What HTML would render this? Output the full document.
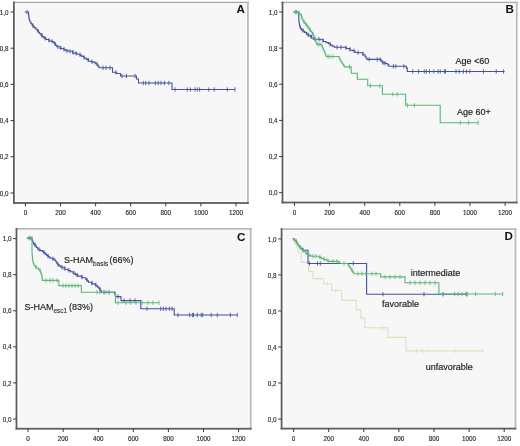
<!DOCTYPE html>
<html><head><meta charset="utf-8"><title>Kaplan-Meier survival curves</title>
<style>
html,body{margin:0;padding:0;background:#fff;width:520px;height:446px;overflow:hidden}
svg{display:block;will-change:transform;filter:blur(0.3px)}
text{font-family:"Liberation Sans",sans-serif;fill:#151515}
.tk{font-size:6.3px;fill:#1e1e1e;stroke:#1e1e1e;stroke-width:0.12px}
.pl{font-size:11.6px;font-weight:bold;fill:#111}
.lg{font-size:9px;fill:#151515;stroke:#151515;stroke-width:0.14px}
.sb{font-size:6.5px;stroke-width:0.06px}
</style></head>
<body>
<svg width="520" height="446" viewBox="0 0 520 446">
<rect width="520" height="446" fill="#fff"/>
<rect x="16.10" y="3.90" width="229.80" height="197.30" fill="#f7f7f7"/>
<rect x="13.00" y="1.75" width="235.80" height="1.4" fill="#a9a9a9"/>
<rect x="247.00" y="1.55" width="1.8" height="202.30" fill="#bababa"/>
<rect x="13.00" y="1.55" width="1.8" height="202.30" fill="#5e5e5e"/>
<rect x="13.00" y="202.10" width="235.80" height="1.8" fill="#5e5e5e"/>
<line x1="10.50" y1="12.00" x2="13.90" y2="12.00" stroke="#3a3a3a" stroke-width="1"/>
<text x="8.60" y="14.65" class="tk" text-anchor="end">1,0</text>
<line x1="10.50" y1="48.20" x2="13.90" y2="48.20" stroke="#3a3a3a" stroke-width="1"/>
<text x="8.60" y="50.85" class="tk" text-anchor="end">0,8</text>
<line x1="10.50" y1="84.40" x2="13.90" y2="84.40" stroke="#3a3a3a" stroke-width="1"/>
<text x="8.60" y="87.05" class="tk" text-anchor="end">0,6</text>
<line x1="10.50" y1="120.60" x2="13.90" y2="120.60" stroke="#3a3a3a" stroke-width="1"/>
<text x="8.60" y="123.25" class="tk" text-anchor="end">0,4</text>
<line x1="10.50" y1="156.80" x2="13.90" y2="156.80" stroke="#3a3a3a" stroke-width="1"/>
<text x="8.60" y="159.45" class="tk" text-anchor="end">0,2</text>
<line x1="10.50" y1="193.00" x2="13.90" y2="193.00" stroke="#3a3a3a" stroke-width="1"/>
<text x="8.60" y="195.65" class="tk" text-anchor="end">0,0</text>
<line x1="25.40" y1="203.00" x2="25.40" y2="206.40" stroke="#3a3a3a" stroke-width="1"/>
<text x="25.40" y="215.00" class="tk" text-anchor="middle">0</text>
<line x1="60.50" y1="203.00" x2="60.50" y2="206.40" stroke="#3a3a3a" stroke-width="1"/>
<text x="60.50" y="215.00" class="tk" text-anchor="middle">200</text>
<line x1="95.60" y1="203.00" x2="95.60" y2="206.40" stroke="#3a3a3a" stroke-width="1"/>
<text x="95.60" y="215.00" class="tk" text-anchor="middle">400</text>
<line x1="130.70" y1="203.00" x2="130.70" y2="206.40" stroke="#3a3a3a" stroke-width="1"/>
<text x="130.70" y="215.00" class="tk" text-anchor="middle">600</text>
<line x1="165.80" y1="203.00" x2="165.80" y2="206.40" stroke="#3a3a3a" stroke-width="1"/>
<text x="165.80" y="215.00" class="tk" text-anchor="middle">800</text>
<line x1="200.90" y1="203.00" x2="200.90" y2="206.40" stroke="#3a3a3a" stroke-width="1"/>
<text x="200.90" y="215.00" class="tk" text-anchor="middle">1000</text>
<line x1="236.00" y1="203.00" x2="236.00" y2="206.40" stroke="#3a3a3a" stroke-width="1"/>
<text x="236.00" y="215.00" class="tk" text-anchor="middle">1200</text>
<text x="236.6" y="13.3" class="pl">A</text>
<path d="M24.70,12.00 L28.50,12.00 L28.50,14.50 L28.61,14.50 L28.61,15.88 L28.84,15.88 L28.84,17.25 L29.06,17.25 L29.06,18.62 L29.29,18.62 L29.29,20.00 L29.40,20.00 L29.90,20.00 L29.90,21.75 L30.90,21.75 L30.90,23.50 L31.40,23.50 L31.90,23.50 L31.90,24.85 L32.90,24.85 L32.90,26.20 L33.40,26.20 L34.25,26.20 L34.25,27.85 L35.95,27.85 L35.95,29.50 L36.80,29.50 L37.37,29.50 L37.37,30.87 L38.50,30.87 L38.50,32.23 L39.63,32.23 L39.63,33.60 L40.20,33.60 L40.93,33.60 L40.93,35.10 L42.40,35.10 L42.40,36.60 L43.87,36.60 L43.87,38.10 L44.60,38.10 L46.05,38.10 L46.05,39.55 L48.95,39.55 L48.95,41.00 L50.40,41.00 L51.85,41.00 L51.85,41.50 L53.30,41.50 L53.72,41.50 L53.72,42.65 L54.58,42.65 L54.58,43.80 L55.00,43.80 L55.58,43.80 L55.58,45.25 L56.72,45.25 L56.72,46.70 L57.30,46.70 L60.15,46.70 L60.15,48.50 L63.00,48.50 L63.88,48.50 L63.88,49.65 L65.62,49.65 L65.62,50.80 L66.50,50.80 L68.80,50.80 L68.80,51.30 L71.10,51.30 L72.85,51.30 L72.85,53.10 L74.60,53.10 L76.90,53.10 L76.90,54.20 L79.20,54.20 L80.08,54.20 L80.08,55.35 L81.83,55.35 L81.83,56.50 L82.70,56.50 L83.85,56.50 L83.85,57.95 L86.15,57.95 L86.15,59.40 L87.30,59.40 L88.65,59.40 L88.65,61.20 L90.00,61.20 L91.75,61.20 L91.75,62.10 L93.50,62.10 L95.20,62.10 L95.20,63.80 L96.90,63.80 L97.33,63.80 L97.33,65.13 L98.20,65.13 L98.20,66.47 L99.07,66.47 L99.07,67.80 L99.50,67.80 L112.50,67.80 L112.50,72.30 L116.50,72.30 L116.50,73.50 L120.50,73.50 L120.50,76.00 L136.50,76.00 L136.50,79.00 L138.50,79.00 L138.50,83.00 L172.00,83.00 L172.00,89.50 L235.00,89.50" fill="none" stroke="#46509c" stroke-width="1.1" stroke-linejoin="miter" opacity="1.0"/>
<path d="M27.0,9.8V14.2M33.0,23.5V27.9M38.0,28.7V33.1M42.0,33.2V37.6M45.0,36.1V40.5M49.0,38.1V42.5M52.0,39.1V43.5M55.0,41.6V46.0M58.0,44.7V49.1M61.0,45.7V50.1M64.0,47.0V51.4M67.0,48.7V53.1M70.0,49.0V53.4M73.0,50.1V54.5M76.0,51.2V55.6M80.0,52.5V56.9M84.0,55.1V59.5M88.0,57.7V62.1M92.0,59.5V63.9M97.0,61.8V66.2M103.0,65.6V70.0M106.0,65.6V70.0M110.0,65.6V70.0M116.0,70.1V74.5M122.0,73.8V78.2M126.4,73.8V78.2M135.0,73.8V78.2M143.3,80.8V85.2M145.7,80.8V85.2M149.0,80.8V85.2M155.3,80.8V85.2M158.2,80.8V85.2M161.0,80.8V85.2M164.4,80.8V85.2M168.8,80.8V85.2M175.0,87.3V91.7M187.3,87.3V91.7M190.4,87.3V91.7M195.0,87.3V91.7M197.3,87.3V91.7M199.6,87.3V91.7M208.8,87.3V91.7M214.2,87.3V91.7M227.3,87.3V91.7M235.0,87.3V91.7" stroke="#46509c" stroke-width="0.85" fill="none" opacity="1.0"/>
<rect x="284.70" y="3.90" width="230.00" height="196.80" fill="#f7f7f7"/>
<rect x="281.60" y="1.75" width="236.00" height="1.4" fill="#a9a9a9"/>
<rect x="515.80" y="1.55" width="1.8" height="201.80" fill="#bababa"/>
<rect x="281.60" y="1.55" width="1.8" height="201.80" fill="#5e5e5e"/>
<rect x="281.60" y="201.60" width="236.00" height="1.8" fill="#5e5e5e"/>
<line x1="279.10" y1="12.00" x2="282.50" y2="12.00" stroke="#3a3a3a" stroke-width="1"/>
<text x="277.40" y="14.65" class="tk" text-anchor="end">1,0</text>
<line x1="279.10" y1="48.14" x2="282.50" y2="48.14" stroke="#3a3a3a" stroke-width="1"/>
<text x="277.40" y="50.79" class="tk" text-anchor="end">0,8</text>
<line x1="279.10" y1="84.28" x2="282.50" y2="84.28" stroke="#3a3a3a" stroke-width="1"/>
<text x="277.40" y="86.93" class="tk" text-anchor="end">0,6</text>
<line x1="279.10" y1="120.42" x2="282.50" y2="120.42" stroke="#3a3a3a" stroke-width="1"/>
<text x="277.40" y="123.07" class="tk" text-anchor="end">0,4</text>
<line x1="279.10" y1="156.56" x2="282.50" y2="156.56" stroke="#3a3a3a" stroke-width="1"/>
<text x="277.40" y="159.21" class="tk" text-anchor="end">0,2</text>
<line x1="279.10" y1="192.70" x2="282.50" y2="192.70" stroke="#3a3a3a" stroke-width="1"/>
<text x="277.40" y="195.35" class="tk" text-anchor="end">0,0</text>
<line x1="294.50" y1="202.50" x2="294.50" y2="205.90" stroke="#3a3a3a" stroke-width="1"/>
<text x="294.50" y="214.80" class="tk" text-anchor="middle">0</text>
<line x1="329.60" y1="202.50" x2="329.60" y2="205.90" stroke="#3a3a3a" stroke-width="1"/>
<text x="329.60" y="214.80" class="tk" text-anchor="middle">200</text>
<line x1="364.70" y1="202.50" x2="364.70" y2="205.90" stroke="#3a3a3a" stroke-width="1"/>
<text x="364.70" y="214.80" class="tk" text-anchor="middle">400</text>
<line x1="399.80" y1="202.50" x2="399.80" y2="205.90" stroke="#3a3a3a" stroke-width="1"/>
<text x="399.80" y="214.80" class="tk" text-anchor="middle">600</text>
<line x1="434.90" y1="202.50" x2="434.90" y2="205.90" stroke="#3a3a3a" stroke-width="1"/>
<text x="434.90" y="214.80" class="tk" text-anchor="middle">800</text>
<line x1="470.00" y1="202.50" x2="470.00" y2="205.90" stroke="#3a3a3a" stroke-width="1"/>
<text x="470.00" y="214.80" class="tk" text-anchor="middle">1000</text>
<line x1="505.10" y1="202.50" x2="505.10" y2="205.90" stroke="#3a3a3a" stroke-width="1"/>
<text x="505.10" y="214.80" class="tk" text-anchor="middle">1200</text>
<text x="505.4" y="13.1" class="pl">B</text>
<path d="M293.30,12.00 L298.40,12.00 L298.45,12.00 L298.45,13.20 L298.55,13.20 L298.55,14.40 L298.65,14.40 L298.65,15.60 L298.70,15.60 L298.74,15.60 L298.74,17.12 L298.81,17.12 L298.81,18.65 L298.89,18.65 L298.89,20.17 L298.96,20.17 L298.96,21.70 L299.00,21.70 L299.12,21.70 L299.12,23.00 L299.35,23.00 L299.35,24.30 L299.58,24.30 L299.58,25.60 L299.70,25.60 L299.95,25.60 L299.95,27.10 L300.45,27.10 L300.45,28.60 L300.70,28.60 L301.60,28.60 L301.60,30.10 L302.50,30.10 L303.20,30.10 L303.20,31.25 L304.60,31.25 L304.60,32.40 L305.30,32.40 L306.45,32.40 L306.45,34.30 L307.60,34.30 L308.70,34.30 L308.70,35.90 L309.80,35.90 L311.35,35.90 L311.35,37.80 L312.90,37.80 L313.20,37.80 L313.20,39.20 L313.50,39.20 L319.20,39.20 L320.35,39.20 L320.35,39.80 L321.50,39.80 L323.25,39.80 L323.25,41.50 L325.00,41.50 L326.15,41.50 L326.15,42.65 L328.45,42.65 L328.45,43.80 L329.60,43.80 L330.48,43.80 L330.48,44.95 L332.23,44.95 L332.23,46.10 L333.10,46.10 L334.25,46.10 L334.25,47.30 L335.40,47.30 L344.60,47.30 L346.35,47.30 L346.35,48.50 L348.10,48.50 L349.80,48.50 L349.80,50.20 L351.50,50.20 L352.65,50.20 L352.65,50.80 L353.80,50.80 L354.95,50.80 L354.95,52.50 L356.10,52.50 L358.65,52.50 L358.65,52.80 L361.20,52.80 L362.90,52.80 L362.90,54.80 L364.60,54.80 L365.03,54.80 L365.03,56.25 L365.88,56.25 L365.88,57.70 L366.30,57.70 L366.90,57.70 L366.90,59.40 L367.50,59.40 L380.20,59.40 L381.05,59.40 L381.05,61.10 L381.90,61.10 L382.50,61.10 L382.50,62.90 L383.10,62.90 L385.10,62.90 L385.10,63.50 L387.10,63.50 L387.68,63.50 L387.68,64.90 L388.82,64.90 L388.82,66.30 L389.40,66.30 L405.60,66.30 L406.45,66.30 L406.45,68.10 L407.30,68.10 L407.30,71.50 L504.60,71.50" fill="none" stroke="#46509c" stroke-width="1.1" stroke-linejoin="miter" opacity="1.0"/>
<path d="M296.0,9.8V14.2M303.0,28.3V32.7M308.0,32.4V36.8M311.0,34.4V38.8M315.0,37.0V41.4M319.0,37.0V41.4M323.0,38.3V42.7M330.0,41.9V46.3M337.0,45.1V49.5M341.0,45.1V49.5M346.0,45.6V50.0M350.0,47.2V51.6M354.0,48.7V53.1M358.0,50.4V54.8M363.0,51.7V56.1M369.2,57.2V61.6M377.3,57.2V61.6M380.2,57.2V61.6M383.0,60.5V64.9M385.0,61.0V65.4M393.4,64.1V68.5M395.8,64.1V68.5M403.8,64.1V68.5M412.7,69.3V73.7M418.6,69.3V73.7M424.3,69.3V73.7M426.4,69.3V73.7M429.6,69.3V73.7M433.8,69.3V73.7M438.0,69.3V73.7M440.2,69.3V73.7M444.4,69.3V73.7M445.5,69.3V73.7M456.0,69.3V73.7M459.2,69.3V73.7M463.4,69.3V73.7M466.6,69.3V73.7M469.8,69.3V73.7M483.5,69.3V73.7M496.2,69.3V73.7M503.6,69.3V73.7" stroke="#46509c" stroke-width="0.85" fill="none" opacity="1.0"/>
<path d="M293.30,12.00 L295.65,12.00 L295.65,12.30 L298.00,12.30 L299.35,12.30 L299.35,14.10 L300.70,14.10 L300.90,14.10 L300.90,15.25 L301.30,15.25 L301.30,16.40 L301.50,16.40 L301.77,16.40 L301.77,17.95 L302.33,17.95 L302.33,19.50 L302.60,19.50 L303.08,19.50 L303.08,21.00 L304.02,21.00 L304.02,22.50 L304.50,22.50 L304.98,22.50 L304.98,23.65 L305.92,23.65 L305.92,24.80 L306.40,24.80 L306.88,24.80 L306.88,26.15 L307.82,26.15 L307.82,27.50 L308.30,27.50 L308.77,27.50 L308.77,28.80 L309.73,28.80 L309.73,30.10 L310.20,30.10 L310.68,30.10 L310.68,31.25 L311.62,31.25 L311.62,32.40 L312.10,32.40 L312.48,32.40 L312.48,33.93 L313.25,33.93 L313.25,35.47 L314.02,35.47 L314.02,37.00 L314.40,37.00 L314.70,37.00 L314.70,38.55 L315.30,38.55 L315.30,40.10 L315.60,40.10 L315.82,40.10 L315.82,41.53 L316.25,41.53 L316.25,42.97 L316.68,42.97 L316.68,44.40 L316.90,44.40 L321.50,44.40 L321.80,44.40 L321.80,46.15 L322.40,46.15 L322.40,47.90 L322.70,47.90 L323.12,47.90 L323.12,49.60 L323.97,49.60 L323.97,51.30 L324.40,51.30 L324.70,51.30 L324.70,52.75 L325.30,52.75 L325.30,54.20 L325.60,54.20 L325.73,54.20 L325.73,55.35 L325.98,55.35 L325.98,56.50 L326.10,56.50 L338.80,56.50 L339.10,56.50 L339.10,57.87 L339.70,57.87 L339.70,59.23 L340.30,59.23 L340.30,60.60 L340.60,60.60 L341.07,60.60 L341.07,61.93 L342.00,61.93 L342.00,63.27 L342.93,63.27 L342.93,64.60 L343.40,64.60 L343.70,64.60 L343.70,65.75 L344.30,65.75 L344.30,66.90 L344.60,66.90 L351.20,66.90 L351.20,73.20 L357.30,73.20 L357.30,79.20 L367.70,79.20 L367.70,85.80 L382.40,85.80 L382.40,94.20 L405.60,94.20 L405.60,105.30 L440.20,105.30 L440.20,122.70 L478.20,122.70" fill="none" stroke="#5ab676" stroke-width="1.1" stroke-linejoin="miter" opacity="1.0"/>
<path d="M296.0,10.0V14.4M299.0,10.8V15.2M301.5,14.2V18.6M304.0,19.5V23.9M306.0,22.1V26.5M308.0,24.9V29.3M310.0,27.6V32.0M313.0,32.0V36.4M318.0,42.2V46.6M320.0,42.2V46.6M328.0,54.3V58.7M330.0,54.3V58.7M333.0,54.3V58.7M349.5,64.7V69.1M370.3,83.6V88.0M379.8,83.6V88.0M392.8,92.0V96.4M397.1,92.0V96.4M407.4,103.1V107.5M414.4,103.1V107.5M460.3,120.5V124.9M468.7,120.5V124.9M478.2,120.5V124.9" stroke="#5ab676" stroke-width="0.85" fill="none" opacity="1.0"/>
<text x="455.4" y="63.9" class="lg">Age &lt;60</text>
<text x="457.0" y="115.3" class="lg">Age 60+</text>
<rect x="18.70" y="230.30" width="230.00" height="196.60" fill="#f7f7f7"/>
<rect x="15.60" y="228.15" width="236.00" height="1.4" fill="#a9a9a9"/>
<rect x="249.80" y="227.95" width="1.8" height="201.60" fill="#bababa"/>
<rect x="15.60" y="227.95" width="1.8" height="201.60" fill="#5e5e5e"/>
<rect x="15.60" y="427.80" width="236.00" height="1.8" fill="#5e5e5e"/>
<line x1="13.10" y1="238.60" x2="16.50" y2="238.60" stroke="#3a3a3a" stroke-width="1"/>
<text x="11.40" y="241.25" class="tk" text-anchor="end">1,0</text>
<line x1="13.10" y1="274.68" x2="16.50" y2="274.68" stroke="#3a3a3a" stroke-width="1"/>
<text x="11.40" y="277.33" class="tk" text-anchor="end">0,8</text>
<line x1="13.10" y1="310.76" x2="16.50" y2="310.76" stroke="#3a3a3a" stroke-width="1"/>
<text x="11.40" y="313.41" class="tk" text-anchor="end">0,6</text>
<line x1="13.10" y1="346.84" x2="16.50" y2="346.84" stroke="#3a3a3a" stroke-width="1"/>
<text x="11.40" y="349.49" class="tk" text-anchor="end">0,4</text>
<line x1="13.10" y1="382.92" x2="16.50" y2="382.92" stroke="#3a3a3a" stroke-width="1"/>
<text x="11.40" y="385.57" class="tk" text-anchor="end">0,2</text>
<line x1="13.10" y1="419.00" x2="16.50" y2="419.00" stroke="#3a3a3a" stroke-width="1"/>
<text x="11.40" y="421.65" class="tk" text-anchor="end">0,0</text>
<line x1="28.00" y1="428.70" x2="28.00" y2="432.10" stroke="#3a3a3a" stroke-width="1"/>
<text x="28.00" y="441.20" class="tk" text-anchor="middle">0</text>
<line x1="63.10" y1="428.70" x2="63.10" y2="432.10" stroke="#3a3a3a" stroke-width="1"/>
<text x="63.10" y="441.20" class="tk" text-anchor="middle">200</text>
<line x1="98.20" y1="428.70" x2="98.20" y2="432.10" stroke="#3a3a3a" stroke-width="1"/>
<text x="98.20" y="441.20" class="tk" text-anchor="middle">400</text>
<line x1="133.30" y1="428.70" x2="133.30" y2="432.10" stroke="#3a3a3a" stroke-width="1"/>
<text x="133.30" y="441.20" class="tk" text-anchor="middle">600</text>
<line x1="168.40" y1="428.70" x2="168.40" y2="432.10" stroke="#3a3a3a" stroke-width="1"/>
<text x="168.40" y="441.20" class="tk" text-anchor="middle">800</text>
<line x1="203.50" y1="428.70" x2="203.50" y2="432.10" stroke="#3a3a3a" stroke-width="1"/>
<text x="203.50" y="441.20" class="tk" text-anchor="middle">1000</text>
<line x1="238.60" y1="428.70" x2="238.60" y2="432.10" stroke="#3a3a3a" stroke-width="1"/>
<text x="238.60" y="441.20" class="tk" text-anchor="middle">1200</text>
<text x="237.0" y="240.8" class="pl">C</text>
<path d="M26.90,238.10 L31.20,238.10 L31.52,238.10 L31.52,239.20 L32.17,239.20 L32.17,240.30 L32.50,240.30 L32.62,240.30 L32.62,241.40 L32.88,241.40 L32.88,242.50 L33.00,242.50 L33.67,242.50 L33.67,244.10 L35.03,244.10 L35.03,245.70 L35.70,245.70 L36.35,245.70 L36.35,247.45 L37.65,247.45 L37.65,249.20 L38.30,249.20 L40.10,249.20 L40.10,250.60 L41.90,250.60 L42.58,250.60 L42.58,251.70 L43.92,251.70 L43.92,252.80 L44.60,252.80 L45.27,252.80 L45.27,254.15 L46.62,254.15 L46.62,255.50 L47.30,255.50 L48.20,255.50 L48.20,256.85 L50.00,256.85 L50.00,258.20 L50.90,258.20 L52.70,258.20 L52.70,259.10 L54.50,259.10 L54.95,259.10 L54.95,260.45 L55.85,260.45 L55.85,261.80 L56.75,261.80 L56.75,263.15 L57.65,263.15 L57.65,264.50 L58.10,264.50 L59.00,264.50 L59.00,265.85 L60.80,265.85 L60.80,267.20 L61.70,267.20 L64.20,267.20 L64.20,269.20 L66.70,269.20 L68.00,269.20 L68.00,270.50 L70.60,270.50 L70.60,271.80 L71.90,271.80 L73.05,271.80 L73.05,273.23 L75.35,273.23 L75.35,274.67 L77.65,274.67 L77.65,276.10 L78.80,276.10 L81.85,276.10 L81.85,277.80 L84.90,277.80 L85.62,277.80 L85.62,279.27 L87.05,279.27 L87.05,280.73 L88.48,280.73 L88.48,282.20 L89.20,282.20 L91.80,282.20 L91.80,283.90 L94.40,283.90 L95.43,283.90 L95.43,285.50 L97.47,285.50 L97.47,287.10 L98.50,287.10 L98.92,287.10 L98.92,288.40 L99.78,288.40 L99.78,289.70 L100.62,289.70 L100.62,291.00 L101.48,291.00 L101.48,292.30 L101.90,292.30 L114.50,292.30 L114.72,292.30 L114.72,293.73 L115.15,293.73 L115.15,295.17 L115.58,295.17 L115.58,296.60 L115.80,296.60 L121.00,296.60 L121.00,300.60 L140.80,300.60 L140.80,308.70 L174.20,308.70 L174.20,315.00 L237.30,315.00" fill="none" stroke="#46509c" stroke-width="1.1" stroke-linejoin="miter" opacity="1.0"/>
<path d="M30.0,235.9V240.3M35.0,242.7V247.1M39.0,247.3V251.7M44.0,250.1V254.5M48.0,253.8V258.2M53.0,256.5V260.9M58.0,262.2V266.6M62.0,265.1V269.5M65.0,266.3V270.7M69.0,268.2V272.6M74.0,270.9V275.3M77.0,272.8V277.2M82.0,274.8V279.2M87.0,277.7V282.1M92.0,280.9V285.3M96.0,282.9V287.3M100.0,287.2V291.6M104.0,290.1V294.5M109.0,290.1V294.5M118.0,294.4V298.8M124.0,298.4V302.8M130.0,298.4V302.8M135.0,298.4V302.8M147.0,306.5V310.9M160.7,306.5V310.9M163.3,306.5V310.9M166.0,306.5V310.9M169.4,306.5V310.9M172.0,306.5V310.9M178.0,312.8V317.2M189.6,312.8V317.2M192.4,312.8V317.2M193.5,312.8V317.2M197.3,312.8V317.2M201.2,312.8V317.2M202.7,312.8V317.2M211.2,312.8V317.2M217.3,312.8V317.2M230.4,312.8V317.2M237.3,312.8V317.2" stroke="#46509c" stroke-width="0.85" fill="none" opacity="1.0"/>
<path d="M26.90,238.10 L32.00,238.10 L32.00,252.80 L32.07,252.80 L32.07,254.16 L32.21,254.16 L32.21,255.51 L32.36,255.51 L32.36,256.87 L32.50,256.87 L32.50,258.23 L32.64,258.23 L32.64,259.59 L32.79,259.59 L32.79,260.94 L32.93,260.94 L32.93,262.30 L33.00,262.30 L33.42,262.30 L33.42,264.00 L34.28,264.00 L34.28,265.70 L34.70,265.70 L35.35,265.70 L35.35,267.00 L36.65,267.00 L36.65,268.30 L37.30,268.30 L38.60,268.30 L38.60,270.00 L39.90,270.00 L40.18,270.00 L40.18,271.47 L40.75,271.47 L40.75,272.93 L41.32,272.93 L41.32,274.40 L41.60,274.40 L41.71,274.40 L41.71,275.90 L41.94,275.90 L41.94,277.40 L42.16,277.40 L42.16,278.90 L42.39,278.90 L42.39,280.40 L42.50,280.40 L58.90,280.40 L58.90,285.60 L81.40,285.60 L81.40,292.20 L115.40,292.20 L115.40,302.70 L159.00,302.70" fill="none" stroke="#5ab676" stroke-width="1.1" stroke-linejoin="miter" opacity="1.0"/>
<path d="M29.0,235.9V240.3M32.0,235.9V240.3M36.0,264.8V269.2M40.0,268.1V272.5M46.0,278.2V282.6M50.0,278.2V282.6M53.0,278.2V282.6M57.0,278.2V282.6M63.0,283.4V287.8M66.0,283.4V287.8M69.0,283.4V287.8M72.0,283.4V287.8M75.0,283.4V287.8M78.0,283.4V287.8M97.0,290.0V294.4M100.0,290.0V294.4M106.0,290.0V294.4M118.0,300.5V304.9M126.0,300.5V304.9M131.0,300.5V304.9M136.0,300.5V304.9M142.0,300.5V304.9M148.0,300.5V304.9M153.0,300.5V304.9M159.0,300.5V304.9" stroke="#5ab676" stroke-width="0.85" fill="none" opacity="1.0"/>
<text x="64.0" y="263.0" class="lg">S-HAM<tspan class="sb" dy="2.6">basis</tspan><tspan x="109.6" dy="-2.6">(66%)</tspan></text>
<text x="24.5" y="310.0" class="lg">S-HAM<tspan class="sb" dy="2.6">esc1</tspan><tspan x="69.0" dy="-2.6">(83%)</tspan></text>
<rect x="283.80" y="230.60" width="229.60" height="196.20" fill="#f7f7f7"/>
<rect x="280.70" y="228.45" width="235.60" height="1.4" fill="#a9a9a9"/>
<rect x="514.50" y="228.25" width="1.8" height="201.20" fill="#bababa"/>
<rect x="280.70" y="228.25" width="1.8" height="201.20" fill="#5e5e5e"/>
<rect x="280.70" y="427.70" width="235.60" height="1.8" fill="#5e5e5e"/>
<line x1="278.20" y1="238.90" x2="281.60" y2="238.90" stroke="#3a3a3a" stroke-width="1"/>
<text x="276.40" y="241.55" class="tk" text-anchor="end">1,0</text>
<line x1="278.20" y1="274.92" x2="281.60" y2="274.92" stroke="#3a3a3a" stroke-width="1"/>
<text x="276.40" y="277.57" class="tk" text-anchor="end">0,8</text>
<line x1="278.20" y1="310.94" x2="281.60" y2="310.94" stroke="#3a3a3a" stroke-width="1"/>
<text x="276.40" y="313.59" class="tk" text-anchor="end">0,6</text>
<line x1="278.20" y1="346.96" x2="281.60" y2="346.96" stroke="#3a3a3a" stroke-width="1"/>
<text x="276.40" y="349.61" class="tk" text-anchor="end">0,4</text>
<line x1="278.20" y1="382.98" x2="281.60" y2="382.98" stroke="#3a3a3a" stroke-width="1"/>
<text x="276.40" y="385.63" class="tk" text-anchor="end">0,2</text>
<line x1="278.20" y1="419.00" x2="281.60" y2="419.00" stroke="#3a3a3a" stroke-width="1"/>
<text x="276.40" y="421.65" class="tk" text-anchor="end">0,0</text>
<line x1="293.60" y1="428.60" x2="293.60" y2="432.00" stroke="#3a3a3a" stroke-width="1"/>
<text x="293.60" y="441.20" class="tk" text-anchor="middle">0</text>
<line x1="328.70" y1="428.60" x2="328.70" y2="432.00" stroke="#3a3a3a" stroke-width="1"/>
<text x="328.70" y="441.20" class="tk" text-anchor="middle">200</text>
<line x1="363.80" y1="428.60" x2="363.80" y2="432.00" stroke="#3a3a3a" stroke-width="1"/>
<text x="363.80" y="441.20" class="tk" text-anchor="middle">400</text>
<line x1="398.90" y1="428.60" x2="398.90" y2="432.00" stroke="#3a3a3a" stroke-width="1"/>
<text x="398.90" y="441.20" class="tk" text-anchor="middle">600</text>
<line x1="434.00" y1="428.60" x2="434.00" y2="432.00" stroke="#3a3a3a" stroke-width="1"/>
<text x="434.00" y="441.20" class="tk" text-anchor="middle">800</text>
<line x1="469.10" y1="428.60" x2="469.10" y2="432.00" stroke="#3a3a3a" stroke-width="1"/>
<text x="469.10" y="441.20" class="tk" text-anchor="middle">1000</text>
<line x1="504.20" y1="428.60" x2="504.20" y2="432.00" stroke="#3a3a3a" stroke-width="1"/>
<text x="504.20" y="441.20" class="tk" text-anchor="middle">1200</text>
<text x="504.5" y="240.1" class="pl">D</text>
<path d="M292.80,238.60 L293.16,238.60 L293.16,239.94 L293.87,239.94 L293.87,241.29 L294.59,241.29 L294.59,242.63 L295.30,242.63 L295.30,243.97 L296.01,243.97 L296.01,245.31 L296.73,245.31 L296.73,246.66 L297.44,246.66 L297.44,248.00 L297.80,248.00 L297.80,252.30 L301.20,252.30 L301.20,262.40 L308.50,262.40 L308.50,271.40 L313.00,271.40 L313.00,278.60 L323.60,278.60 L323.60,283.80 L331.60,283.80 L331.60,290.50 L341.60,290.50 L341.60,300.40 L356.20,300.40 L356.20,309.90 L360.90,309.90 L360.90,318.00 L364.90,318.00 L364.90,327.80 L387.80,327.80 L387.80,337.40 L406.00,337.40 L406.00,350.90 L483.00,350.90" fill="none" stroke="#e2dfc0" stroke-width="1.1" stroke-linejoin="miter" opacity="1.0"/>
<path d="M318.0,276.4V280.8M327.0,281.6V286.0M336.0,288.3V292.7M362.0,315.8V320.2M381.0,325.6V330.0M384.0,325.6V330.0M416.5,348.7V353.1M422.3,348.7V353.1M427.1,348.7V353.1M455.0,348.7V353.1M483.0,348.7V353.1" stroke="#e2dfc0" stroke-width="0.85" fill="none" opacity="1.0"/>
<path d="M292.80,238.60 L294.30,238.60 L294.30,240.30 L295.80,240.30 L296.13,240.30 L296.13,241.53 L296.80,241.53 L296.80,242.77 L297.47,242.77 L297.47,244.00 L297.80,244.00 L298.37,244.00 L298.37,245.43 L299.50,245.43 L299.50,246.87 L300.63,246.87 L300.63,248.30 L301.20,248.30 L302.90,248.30 L302.90,250.20 L304.60,250.20 L308.00,250.20 L308.00,263.50 L366.60,263.50 L366.60,294.20 L467.00,294.20" fill="none" stroke="#46509c" stroke-width="1.1" stroke-linejoin="miter" opacity="1.0"/>
<path d="M309.6,261.3V265.7M317.5,261.3V265.7M320.3,261.3V265.7M353.3,261.3V265.7M382.9,292.0V296.4M424.0,292.0V296.4M443.0,292.0V296.4M467.0,292.0V296.4" stroke="#46509c" stroke-width="0.85" fill="none" opacity="1.0"/>
<path d="M292.80,238.60 L294.30,238.60 L294.30,240.50 L295.80,240.50 L296.13,240.50 L296.13,241.83 L296.80,241.83 L296.80,243.17 L297.47,243.17 L297.47,244.50 L297.80,244.50 L298.37,244.50 L298.37,246.00 L299.50,246.00 L299.50,247.50 L300.63,247.50 L300.63,249.00 L301.20,249.00 L302.05,249.00 L302.05,250.40 L303.75,250.40 L303.75,251.80 L304.60,251.80 L305.70,251.80 L305.70,253.45 L307.90,253.45 L307.90,255.10 L309.00,255.10 L310.70,255.10 L310.70,256.30 L312.40,256.30 L318.00,256.30 L319.12,256.30 L319.12,257.40 L321.38,257.40 L321.38,258.50 L322.50,258.50 L323.90,258.50 L323.90,259.60 L326.70,259.60 L326.70,260.70 L328.10,260.70 L329.05,260.70 L329.05,261.40 L330.00,261.40 L338.60,261.40 L339.05,261.40 L339.05,262.45 L339.95,262.45 L339.95,263.50 L340.40,263.50 L347.30,263.50 L347.77,263.50 L347.77,264.80 L348.70,264.80 L348.70,266.10 L349.63,266.10 L349.63,267.40 L350.10,267.40 L350.62,267.40 L350.62,269.00 L351.68,269.00 L351.68,270.60 L352.20,270.60 L352.73,270.60 L352.73,272.15 L353.77,272.15 L353.77,273.70 L354.30,273.70 L380.70,273.70 L380.70,276.90 L405.00,276.90 L405.00,282.80 L438.90,282.80 L438.90,294.00 L502.70,294.00" fill="none" stroke="#5ab676" stroke-width="1.1" stroke-linejoin="miter" opacity="1.0"/>
<path d="M296.0,238.7V243.1M300.0,245.2V249.6M303.0,248.3V252.7M306.0,250.7V255.0M309.0,252.9V257.3M313.0,254.1V258.5M316.0,254.1V258.5M320.0,255.1V259.5M324.0,256.9V261.3M328.0,258.5V262.9M333.0,259.2V263.6M337.0,259.2V263.6M344.0,261.3V265.7M352.0,268.1V272.5M358.0,271.5V275.9M362.0,271.5V275.9M366.0,271.5V275.9M372.0,271.5V275.9M376.0,271.5V275.9M385.0,274.7V279.1M390.0,274.7V279.1M395.0,274.7V279.1M400.0,274.7V279.1M410.0,280.6V285.0M415.0,280.6V285.0M420.0,280.6V285.0M425.0,280.6V285.0M430.0,280.6V285.0M435.0,280.6V285.0M443.5,291.8V296.2M454.6,291.8V296.2M458.3,291.8V296.2M462.0,291.8V296.2M465.7,291.8V296.2M467.0,291.8V296.2M475.6,291.8V296.2M495.3,291.8V296.2M502.7,291.8V296.2" stroke="#5ab676" stroke-width="0.85" fill="none" opacity="1.0"/>
<text x="410.8" y="275.6" class="lg">intermediate</text>
<text x="382.0" y="306.5" class="lg">favorable</text>
<text x="425.8" y="369.6" class="lg">unfavorable</text>
</svg>
</body></html>
